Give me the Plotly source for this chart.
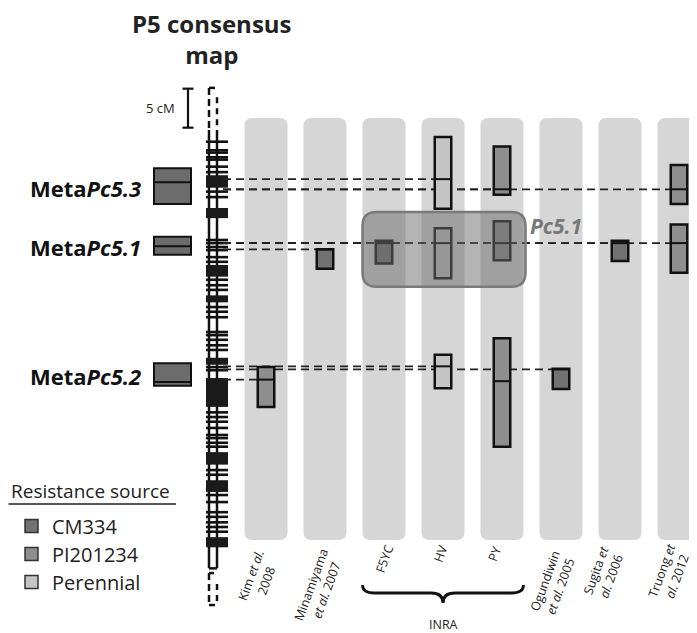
import plotly.graph_objects as go

# ---------------- data (positions in cM along the P5 consensus map) ----------------
studies = ["Kim <i>et al.</i><br>2008", "Minamiyama<br><i>et al.</i> 2007", "F5YC", "HV", "PY",
           "Ogundiwin<br><i>et al.</i> 2005", "Sugita <i>et</i><br><i>al.</i> 2006", "Truong <i>et</i><br><i>al.</i> 2012"]
inra_group = [2, 3, 4]

sources = ["CM334", "PI201234", "Perennial"]
source_colors = {"CM334": "#727272", "PI201234": "#8e8e8e", "Perennial": "#c4c4c4"}

qtl_study  = [0, 1, 2, 3, 3, 3, 4, 4, 4, 5, 6, 7, 7]
qtl_top    = [30.4, 15.3, 14.2, 0.9, 12.6, 28.8, 2.1, 11.7, 26.7, 30.6, 14.2, 4.5, 12.1]
qtl_bottom = [35.5, 17.8, 17.1, 10.1, 19.0, 33.1, 8.3, 16.7, 40.6, 33.2, 16.8, 9.5, 18.3]
qtl_peak   = [32.0, 15.3, 14.5, 6.3, 14.5, 30.3, 7.6, 14.5, 32.2, 30.7, 14.5, 7.6, 14.5]
qtl_source = ["PI201234", "CM334", "CM334", "Perennial", "Perennial", "Perennial",
              "PI201234", "PI201234", "PI201234", "CM334", "CM334", "PI201234", "PI201234"]
qtl_linked = [True, True, True, True, True, True, True, True, False, True, True, True, True]

meta_names  = ["Meta<i>Pc5.3</i>", "Meta<i>Pc5.1</i>", "Meta<i>Pc5.2</i>"]
meta_top    = [4.9, 13.7, 29.9]
meta_bottom = [9.5, 16.0, 32.8]
meta_peak   = [6.7, 14.9, 32.3]

markers_cm = [1.5, 2.6, 2.9, 3.5, 3.8, 4.7, 5.4, 7.9, 8.6, 14.1, 14.5, 15.0, 15.4, 16.3, 16.9,
              19.2, 19.9, 20.5, 22.7, 23.3, 24.0, 25.9, 26.3, 26.9, 27.6, 28.2, 30.4, 30.8,
              36.2, 36.8, 37.4, 38.2, 39.1, 39.5, 40.1, 40.6, 43.6, 44.2, 46.8, 47.7, 49.0,
              49.6, 50.3, 50.9, 51.5]
block_start = [5.8, 10.0, 17.3, 21.2, 29.2, 31.8, 41.3, 44.9, 52.2]
block_end   = [7.4, 11.3, 18.8, 22.1, 30.1, 35.5, 42.9, 46.4, 53.5]
map_length_cm = 56.2
dashed_top_cm = -5.4
dashed_bottom_cm = 60.9
scale_bar_cm = 5

pc51_region = (10.5, 20.1)   # Pc5.1 cluster on the map (cM)

# ---------------- layout helpers ----------------
W, H = 697, 633
OFF = 8   # page body margin
PX_PER_CM = 7.8
Y0 = 130  # pixel row of map top
def cm(py):
    return (py - Y0) / PX_PER_CM

col_x = [266 + 59 * i for i in range(len(studies))]
strip_half = 21.5
box_half = 8.25
chrom_l, chrom_r = 209, 217
rung_l, rung_r = 206, 228
FONT = "Open Sans, Noto Sans, sans-serif"

shapes = []
annots = []

def rrect_path(x0, x1, y0, y1, rx, ry):
    return (f"M{x0+rx},{y0} L{x1-rx},{y0} Q{x1},{y0} {x1},{y0+ry} L{x1},{y1-ry} "
            f"Q{x1},{y1} {x1-rx},{y1} L{x0+rx},{y1} Q{x0},{y1} {x0},{y1-ry} "
            f"L{x0},{y0+ry} Q{x0},{y0} {x0+rx},{y0} Z")

def line(x0, y0, x1, y1, w=2.5, color="#111", dash=None):
    d = dict(type="line", xref="x", yref="y", x0=x0, y0=y0, x1=x1, y1=y1,
             line=dict(color=color, width=w))
    if dash:
        d["line"]["dash"] = dash
    shapes.append(d)

def rect(x0, y0, x1, y1, fill, lw=2.5, lc="#111"):
    shapes.append(dict(type="rect", xref="x", yref="y", x0=x0, y0=y0, x1=x1, y1=y1,
                       fillcolor=fill, line=dict(color=lc, width=lw)))

# study strips
for cx in col_x:
    shapes.append(dict(type="path", xref="x", yref="y", layer="below",
                       path=rrect_path(cx - strip_half, cx + strip_half, cm(118), cm(540), 8, 8 / PX_PER_CM),
                       fillcolor="#d6d6d6", line=dict(width=0)))

# chromosome map
for xx in (chrom_l, chrom_r):
    line(xx, 0, xx, map_length_cm, w=2.5)
line(chrom_l, map_length_cm, chrom_r, map_length_cm, w=2.5)
for m in markers_cm:
    line(rung_l, m, rung_r, m, w=2.6)
for a, b in zip(block_start, block_end):
    rect(rung_l, a, rung_r, b, "#1a1a1a", lw=0)
# dashed extensions
line(chrom_l, dashed_top_cm, chrom_l, 0, w=2.5, dash="7px,4px")
line(chrom_l, dashed_top_cm, chrom_l + 6, dashed_top_cm, w=2.5)
line(chrom_r, dashed_top_cm + 1.2, chrom_r, -0.3, w=2.5, dash="6px,5px")
line(chrom_l, map_length_cm + 0.6, chrom_l, dashed_bottom_cm, w=2.5, dash="7px,4px")
line(chrom_l, map_length_cm + 0.6, chrom_l + 5, map_length_cm + 0.6, w=2.5)
line(chrom_l, dashed_bottom_cm, chrom_l + 6, dashed_bottom_cm, w=2.5)
line(chrom_r, map_length_cm + 2.0, chrom_r, dashed_bottom_cm - 0.5, w=2.5, dash="6px,5px")

# scale bar
sb_x = 188
line(sb_x, dashed_top_cm + 0.1, sb_x, dashed_top_cm + 0.1 + scale_bar_cm, w=2.2)
line(sb_x - 5.5, dashed_top_cm + 0.1, sb_x + 5.5, dashed_top_cm + 0.1, w=2.2)
line(sb_x - 5.5, dashed_top_cm + 0.1 + scale_bar_cm, sb_x + 5.5, dashed_top_cm + 0.1 + scale_bar_cm, w=2.2)
annots.append(dict(x=177, y=dashed_top_cm + 0.1 + scale_bar_cm / 2, text=f"{scale_bar_cm} cM",
                   xanchor="right", yanchor="middle", font=dict(size=13, color="#222")))

# dashed links from the map to the QTL peaks
for s, pk, lk in zip(qtl_study, qtl_peak, qtl_linked):
    if lk:
        line(rung_r - 5, pk, col_x[s] - box_half, pk, w=1.8, dash="8px,5px", color="#222")

# QTL boxes
for s, t, b, pk, src in zip(qtl_study, qtl_top, qtl_bottom, qtl_peak, qtl_source):
    cx = col_x[s]
    rect(cx - box_half, t, cx + box_half, b, source_colors[src], lw=2.5)
    line(cx - box_half, pk, cx + box_half, pk, w=2)

# meta-QTL boxes and labels
for nm, t, b, pk in zip(meta_names, meta_top, meta_bottom, meta_peak):
    rect(154, t, 191, b, "#6c6c6c", lw=2)
    line(154, pk, 191, pk, w=2)
    annots.append(dict(x=143, y=(t + b) / 2 + 0.2, text=f"<b>{nm}</b>", xanchor="right", yanchor="middle",
                       font=dict(size=22, color="#111")))

# Pc5.1 cluster highlight
x0 = col_x[inra_group[0]] - strip_half
x1 = col_x[inra_group[-1]] + strip_half + 2
shapes.append(dict(type="path", xref="x", yref="y",
                   path=rrect_path(x0, x1, pc51_region[0], pc51_region[1], 14, 14 / PX_PER_CM),
                   fillcolor="rgba(105,105,105,0.5)", line=dict(color="#7a7a7a", width=2.5)))
annots.append(dict(x=x1 + 2, y=cm(226), text="<b><i>Pc5.1</i></b>", xanchor="left", yanchor="middle",
                   font=dict(size=21, color="#777")))

# study labels (rotated)
label_pos = [(258, 578), (318, 588), (384, 559), (440, 554), (494, 554), (552, 584), (603, 573), (669, 573)]
for txt, (lx, ly) in zip(studies, label_pos):
    annots.append(dict(x=lx, y=cm(ly), text=txt, textangle=-70, xanchor="center", yanchor="middle",
                       font=dict(size=12.5, color="#222")))

# INRA brace
bx0 = col_x[inra_group[0]] - strip_half
bx1 = col_x[inra_group[-1]] + strip_half
bm = (bx0 + bx1) / 2
ya, yb, yc = cm(585), cm(593), cm(603)
shapes.append(dict(type="path", xref="x", yref="y",
                   path=(f"M{bx0},{ya} Q{bx0},{yb} {bx0+12},{yb} L{bm-12},{yb} Q{bm},{yb} {bm},{yc} "
                         f"Q{bm},{yb} {bm+12},{yb} L{bx1-12},{yb} Q{bx1},{yb} {bx1},{ya}"),
                   line=dict(color="#111", width=2.8)))
annots.append(dict(x=bm, y=cm(624), text="INRA", xanchor="center", yanchor="middle",
                   font=dict(size=12.5, color="#222")))

# title
annots.append(dict(x=212, y=cm(39), text="<b>P5 consensus<br>map</b>", xanchor="center", yanchor="middle",
                   font=dict(size=24, color="#222")))

# legend
annots.append(dict(x=OFF + 0.5, y=cm(491), text="Resistance source", xanchor="left", yanchor="middle",
                   font=dict(size=19, color="#222")))
line(OFF + 0.5, cm(504), 176, cm(504), w=1.5, color="#222")
for i, src in enumerate(sources):
    py = 526 + 28 * i
    rect(25, cm(py - 6.5), 38, cm(py + 6.5), source_colors[src], lw=1.5, lc="#333")
    annots.append(dict(x=50, y=cm(py), text=src, xanchor="left", yanchor="middle",
                       font=dict(size=20, color="#222")))

fig = go.Figure()
fig.add_trace(go.Scatter(x=[OFF, W], y=[cm(OFF), cm(H)], mode="markers", marker=dict(opacity=0),
                         hoverinfo="skip", showlegend=False))
for a in annots:
    a.setdefault("xref", "x")
    a.setdefault("yref", "y")
    a["showarrow"] = False
fig.update_layout(
    width=W - OFF, height=H - OFF, margin=dict(l=0, r=0, t=0, b=0),
    paper_bgcolor="white", plot_bgcolor="white",
    font=dict(family=FONT),
    xaxis=dict(range=[OFF, W], visible=False, fixedrange=True),
    yaxis=dict(range=[cm(H), cm(OFF)], visible=False, fixedrange=True),
    shapes=shapes, annotations=annots, showlegend=False,
)
fig.write_html("out.html")
